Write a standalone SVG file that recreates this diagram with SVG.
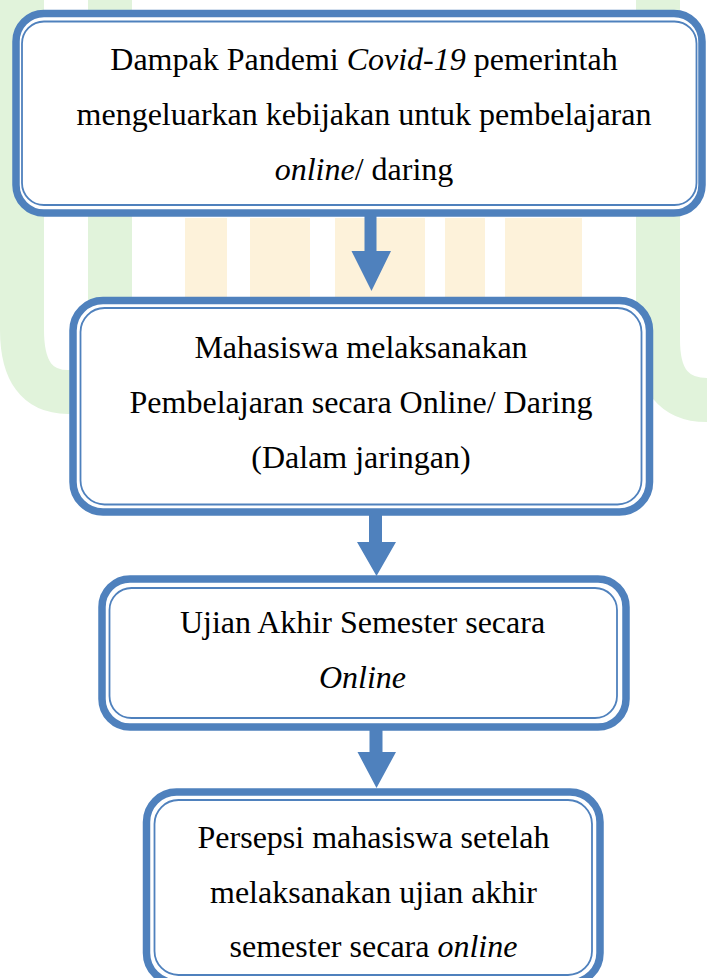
<svg xmlns="http://www.w3.org/2000/svg" width="707" height="978" viewBox="0 0 707 978">
  <defs>
    <style>
      .outer { fill: #ffffff; stroke: #4F81BD; stroke-width: 7.5; }
      .inner { fill: none; stroke: #4F81BD; stroke-width: 1.8; }
      .txt { font-family: "Liberation Serif", "Times New Roman", serif; font-size: 32px; fill: #000000; text-anchor: middle; }
      .it { font-style: italic; }
      .arrow { fill: #4F81BD; stroke: none; }
      .wm-g { fill: none; stroke: #def2d8; }
      .wm-y { fill: #fdf1d6; }
    </style>
  </defs>
  <rect x="0" y="0" width="707" height="978" fill="#ffffff"/>
  <g id="watermark" opacity="0.9">
    <path class="wm-g" stroke-width="44" d="M 22 0 V 330 Q 22 392 68 392 Q 110 392 110 330 V 0"/>
    <path class="wm-g" stroke-width="44" d="M 658 0 V 340 Q 658 400 707 400"/>
    <rect class="wm-y" x="185" y="218" width="42" height="82"/>
    <rect class="wm-y" x="250" y="218" width="60" height="82"/>
    <rect class="wm-y" x="335" y="218" width="90" height="82"/>
    <rect class="wm-y" x="445" y="218" width="40" height="82"/>
    <rect class="wm-y" x="505" y="218" width="77" height="82"/>
  </g>
  <g id="node1">
    <rect class="outer" x="16" y="13.5" width="686" height="199.5" rx="28"/>
    <rect class="inner" x="22" y="21.5" width="674.5" height="183.5" rx="22"/>
    <text class="txt" x="364" y="70">Dampak Pandemi <tspan class="it">Covid-19</tspan> pemerintah</text>
    <text class="txt" x="364" y="125">mengeluarkan kebijakan untuk pembelajaran</text>
    <text class="txt" x="364" y="180"><tspan class="it">online</tspan>/ daring</text>
  </g>
  <g id="node2">
    <rect class="outer" x="73" y="300.5" width="576.5" height="211.5" rx="30"/>
    <rect class="inner" x="80.5" y="308" width="561" height="196.5" rx="24"/>
    <text class="txt" x="361" y="358">Mahasiswa melaksanakan</text>
    <text class="txt" x="361" y="413">Pembelajaran secara Online/ Daring</text>
    <text class="txt" x="361" y="468">(Dalam jaringan)</text>
  </g>
  <g id="node3">
    <rect class="outer" x="102" y="579" width="524" height="148" rx="28"/>
    <rect class="inner" x="109.5" y="588" width="507.5" height="130" rx="22"/>
    <text class="txt" x="362.5" y="633">Ujian Akhir Semester secara</text>
    <text class="txt" x="362.5" y="688"><tspan class="it">Online</tspan></text>
  </g>
  <g id="node4">
    <rect class="outer" x="146.5" y="792" width="453.5" height="191" rx="30"/>
    <rect class="inner" x="154.5" y="800" width="437.5" height="175" rx="24"/>
    <text class="txt" x="373.5" y="848">Persepsi mahasiswa setelah</text>
    <text class="txt" x="373.5" y="903">melaksanakan ujian akhir</text>
    <text class="txt" x="373.5" y="957">semester secara <tspan class="it">online</tspan></text>
  </g>
  <g id="connectors">
    <polygon class="arrow" points="364.5,216 376.5,216 376.5,251 391,251 371.5,291 351.5,251 364.5,251"/>
    <polygon class="arrow" points="369,515 382,515 382,542 396,542 376.5,576 357,542 369,542"/>
    <polygon class="arrow" points="369.5,730 382.5,730 382.5,752 396,752 376.5,788 357.5,752 369.5,752"/>
  </g>
</svg>
